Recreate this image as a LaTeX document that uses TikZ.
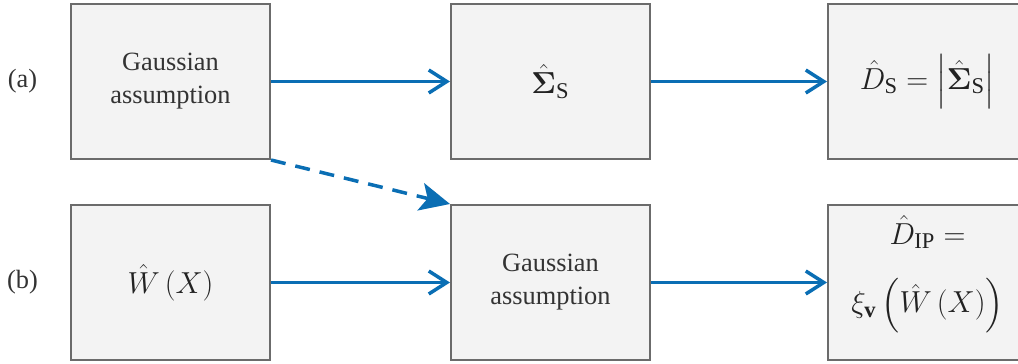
\documentclass[tikz,border=0pt]{standalone}
\usepackage{fontspec}
\usepackage{amsmath}
\usepackage{bm}
\setmainfont{Liberation Serif}
\usetikzlibrary{arrows.meta}
\definecolor{flowblue}{HTML}{0A6EB4}
\definecolor{boxgray}{HTML}{F3F3F3}
\definecolor{edgegray}{HTML}{6B6B6B}
\definecolor{inkgray}{HTML}{333333}
\definecolor{mathink}{HTML}{222222}

\begin{document}
\begin{tikzpicture}[
    block/.style={draw=edgegray, line width=0.04cm, fill=boxgray,
      minimum width=3.98cm, minimum height=3.1cm, inner sep=0pt,
      align=center, text=inkgray, font=\fontsize{15}{18.8}\selectfont},
    mathblock/.style={block, text=mathink, font=\fontsize{18.3}{22}\selectfont},
    mathtext/.style={inner sep=0pt, align=center, text=mathink,
      font=\fontsize{18.3}{22}\selectfont},
    flow/.style={draw=flowblue, line width=0.07cm,
      -{Straight Barb[length=0.36cm,width=0.46cm]}},
    hint/.style={draw=flowblue, line width=0.07cm,
      dash pattern=on 0.3cm off 0.2cm,
      -{Stealth[length=0.6cm,width=0.56cm,inset=0.14cm]}}
  ]
  \useasboundingbox (0,0) rectangle (20.36,-7.28);
  \foreach \tag/\y in {a/-1.63, b/-5.64}
  \node[text=inkgray, font=\fontsize{15}{18.8}\selectfont] (lab\tag) at (0.45,\y) {(\tag)};
  % row (a)
  \node[block] (gaussA) at (3.41,-1.63) {Gaussian\\assumption};
  \node[mathblock] (sigmaS) at (11.01,-1.63) {$\bm{\hat{\Sigma}}_{\mathrm{S}}$};
  \node[mathblock] (detS) at (18.55,-1.63)
    {$\hat{D}_{\mathrm{S}}=\left|\bm{\hat{\Sigma}}_{\mathrm{S}}\right|$};
  % row (b)
  \node[mathblock] (whatX) at (3.41,-5.65) {$\hat{W}\left(X\right)$};
  \node[block] (gaussB) at (11.01,-5.65) {Gaussian\\assumption};
  \node[block] (detIP) at (18.55,-5.65) {};
  \node[mathtext] (detIPtext) at ([yshift=0.17cm]detIP.center)
    {$\hat{D}_{\mathrm{IP}}=$\\[0.55cm]
     $\xi_{\mathbf{v}}\left(\hat{W}\left(X\right)\right)$};
  \draw[flow] (gaussA) -- (sigmaS);
  \draw[flow] (sigmaS) -- (detS);
  \draw[flow] (whatX) -- (gaussB);
  \draw[flow] (gaussB) -- (detIP);
  \draw[hint] (gaussA.south east) -- (gaussB.north west);
\end{tikzpicture}
\end{document}
